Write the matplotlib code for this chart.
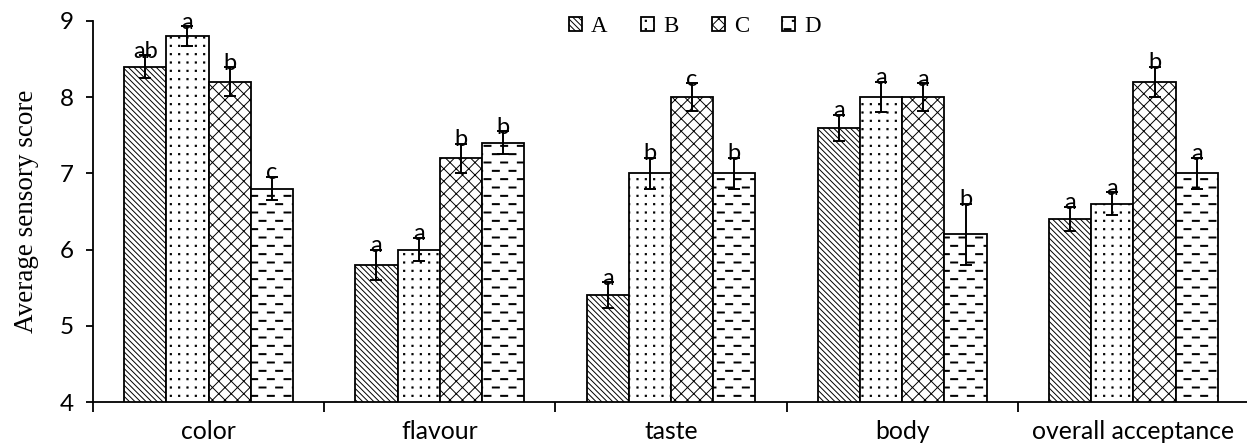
import numpy as np
import matplotlib
matplotlib.use('Agg')
import matplotlib.pyplot as plt
import matplotlib.hatch as mhatch
from matplotlib.path import Path

# ---------------- data ----------------
categories = ['color', 'flavour', 'taste', 'body', 'overall acceptance']
series = ['A', 'B', 'C', 'D']
values_A = [8.4, 5.8, 5.4, 7.6, 6.4]
values_B = [8.8, 6.0, 7.0, 8.0, 6.6]
values_C = [8.2, 7.2, 8.0, 8.0, 8.2]
values_D = [6.8, 7.4, 7.0, 6.2, 7.0]
err_A = [0.15, 0.20, 0.17, 0.17, 0.16]
err_B = [0.13, 0.15, 0.20, 0.20, 0.15]
err_C = [0.19, 0.19, 0.18, 0.18, 0.20]
err_D = [0.15, 0.15, 0.20, 0.40, 0.20]
letters_A = ['ab', 'a', 'a', 'a', 'a']
letters_B = ['a', 'a', 'b', 'a', 'a']
letters_C = ['b', 'b', 'c', 'a', 'b']
letters_D = ['c', 'b', 'b', 'b', 'a']
yticks = [4, 5, 6, 7, 8, 9]


# ---------------- custom hatch patterns ----------------
class DotHatch(mhatch.HatchPatternBase):
    """grid of small dots, keyed on 'o'"""
    rows, per_row, half = 12, 12, 0.006

    def __init__(self, hatch, density):
        self.on = 'o' in hatch
        self.num_vertices = self.rows * self.per_row * 5 if self.on else 0

    def set_vertices_and_codes(self, vertices, codes):
        k = 0
        h = self.half
        for i in range(self.rows):
            y = (i + 0.5) / self.rows
            for j in range(self.per_row):
                x = (j + 0.5) / self.per_row
                vertices[k:k + 5] = [[x - h, y - h], [x + h, y - h],
                                     [x + h, y + h], [x - h, y + h],
                                     [x - h, y - h]]
                codes[k:k + 5] = [Path.MOVETO, Path.LINETO, Path.LINETO,
                                  Path.LINETO, Path.CLOSEPOLY]
                k += 5


class CrossHatch(mhatch.HatchPatternBase):
    """diagonal crosshatch, keyed on 'O'"""
    n = 16

    def __init__(self, hatch, density):
        self.on = 'O' in hatch
        self.num_vertices = (self.n + 1) * 4 if self.on else 0

    def set_vertices_and_codes(self, vertices, codes):
        steps = np.linspace(-0.5, 0.5, self.n + 1)
        m = (self.n + 1) * 2
        v1 = vertices[:m]
        v1[0::2, 0] = steps
        v1[0::2, 1] = -steps
        v1[1::2, 0] = 1 + steps
        v1[1::2, 1] = 1 - steps
        v2 = vertices[m:]
        v2[0::2, 0] = steps
        v2[0::2, 1] = 1 + steps
        v2[1::2, 0] = 1 + steps
        v2[1::2, 1] = steps
        codes[0::2] = Path.MOVETO
        codes[1::2] = Path.LINETO


class DashHatch(mhatch.HatchPatternBase):
    """staggered horizontal dashes, keyed on '*'"""
    rows, per_row, th = 12, 6, 0.005

    def __init__(self, hatch, density):
        self.on = '*' in hatch
        self.num_vertices = self.rows * self.per_row * 5 if self.on else 0

    def set_vertices_and_codes(self, vertices, codes):
        k = 0
        t = self.th
        for i in range(self.rows):
            y = (i + 0.5) / self.rows
            s = 0.04 if i % 2 == 0 else 0.54
            for j in range(self.per_row):
                x0 = (j + s) / self.per_row
                x1 = (j + s + 0.42) / self.per_row
                vertices[k:k + 5] = [[x0, y - t], [x1, y - t], [x1, y + t],
                                     [x0, y + t], [x0, y - t]]
                codes[k:k + 5] = [Path.MOVETO, Path.LINETO, Path.LINETO,
                                  Path.LINETO, Path.CLOSEPOLY]
                k += 5


_replace = {'SmallCircles': DotHatch, 'LargeCircles': CrossHatch,
            'Stars': DashHatch}
mhatch._hatch_types = [_replace.get(c.__name__, c) for c in mhatch._hatch_types]

plt.rcParams['hatch.linewidth'] = 0.7
plt.rcParams['hatch.color'] = 'black'

# ---------------- figure ----------------
W, H = 1247, 448
fig = plt.figure(figsize=(W / 100, H / 100), dpi=100)
ax = fig.add_axes([93 / W, 46 / H, 1156 / W, 381 / H])

x = np.arange(len(categories))
bw = 0.1827
hatches = ['\\' * 6, 'o', 'O', '*']
vals_all = [values_A, values_B, values_C, values_D]
errs_all = [err_A, err_B, err_C, err_D]
labs_all = [letters_A, letters_B, letters_C, letters_D]

for i in range(4):
    pos = x + (i - 1.5) * bw
    ax.bar(pos, vals_all[i], bw, yerr=errs_all[i], color='white',
           edgecolor='black', linewidth=1.3, hatch=hatches[i],
           label=series[i], zorder=2,
           error_kw=dict(ecolor='black', elinewidth=1.4, capsize=4.5,
                         capthick=1.4, zorder=3))
    for p, v, e, l in zip(pos, vals_all[i], errs_all[i], labs_all[i]):
        ax.text(p, v + e - 0.03, l, ha='center', va='baseline',
                fontsize=17, family='Lato', zorder=4, clip_on=False)

ax.set_xlim(-0.5, 4.5)
ax.set_ylim(4, 9)
ax.set_yticks(yticks)
ax.set_xticks(np.arange(-0.5, 4.6, 1.0))
ax.set_xticklabels([])
ax.set_xticks(x, minor=True)
ax.set_xticklabels(categories, minor=True, family='Lato')
ax.tick_params(axis='x', which='major', length=7, width=1.3, direction='out')
ax.tick_params(axis='x', which='minor', length=0, pad=13, labelsize=17.8)
ax.tick_params(axis='y', length=5, width=1.3, pad=9, labelsize=17.5)
for lab in ax.get_yticklabels():
    lab.set_family('Lato')
for s in ['top', 'right']:
    ax.spines[s].set_visible(False)
for s in ['left', 'bottom']:
    ax.spines[s].set_linewidth(1.3)

ax.set_ylabel('Average sensory score', family='Liberation Serif',
              fontsize=19.5, labelpad=15)

ax.legend(loc='center', bbox_to_anchor=(695 / W, 1 - 26.5 / H),
          bbox_transform=fig.transFigure, ncol=4, frameon=False,
          prop={'family': 'Liberation Serif', 'size': 16.5},
          handlelength=0.57, handleheight=0.57, handletextpad=0.4,
          columnspacing=1.45, borderaxespad=0, borderpad=0)

fig.savefig('out.png', dpi=100)
